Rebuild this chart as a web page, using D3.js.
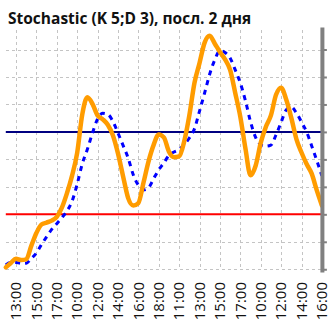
<!DOCTYPE html>
<html>
<head>
<meta charset="utf-8">
<script src="https://cdn.jsdelivr.net/npm/d3@7"></script>
<style>
  html, body { margin: 0; padding: 0; background: #fff; }
  svg { display: block; }
</style>
</head>
<body>
<svg id="chart" width="328" height="323"></svg>
<script>
// Hourly slots over four trading sessions (10:00–18:00)
const hourLabels = [
  "12:00","13:00","14:00","15:00","16:00","17:00","18:00",
  "10:00","11:00","12:00","13:00","14:00","15:00","16:00","17:00","18:00",
  "10:00","11:00","12:00","13:00","14:00","15:00","16:00","17:00","18:00",
  "10:00","11:00","12:00","13:00","14:00","15:00","16:00"
];

// %K line, one value per half hour
const kValues = [
  0.7, 2.3, 3.8, 3.4, 3.6, 8.5, 13.2, 16.3, 17.0, 17.7,
  19.1, 22.4, 27.7, 34.1, 42.4, 56.4, 62.6, 60.2, 56.0, 54.6,
  52.6, 48.8, 42.2, 33.9, 25.9, 23.2, 24.1, 31.5, 39.3, 45.3,
  49.1, 48.0, 42.8, 40.8, 41.1, 46.6, 56.0, 67.8, 75.1, 82.5,
  85.0, 82.1, 79.1, 76.4, 72.6, 64.2, 55.5, 44.0, 34.2, 37.7,
  46.0, 51.8, 56.0, 63.5, 66.1, 61.8, 55.1, 47.4, 42.5, 38.3,
  34.8, 28.7, 23.2
];

// %D line (signal), one value per half hour
const dValues = [
  1.6, 2.5, 2.5, 2.1, 2.2, 3.9, 5.9, 9.0, 11.8, 14.5,
  16.6, 18.8, 21.2, 24.8, 31.0, 38.4, 43.7, 49.6, 54.7, 56.8,
  56.4, 53.9, 49.6, 45.1, 40.5, 34.4, 30.6, 28.9, 29.7, 33.0,
  36.2, 38.7, 41.5, 42.7, 43.6, 45.4, 47.8, 51.1, 57.6, 64.2,
  71.1, 76.3, 79.6, 78.9, 76.9, 72.6, 67.8, 61.4, 53.7, 48.0,
  45.3, 44.8, 45.2, 48.9, 53.5, 58.0, 59.1, 56.9, 53.6, 50.0,
  44.9, 39.6, 34.0
];

// Reference levels
const lowLevel = 20;
const highLevel = 50;
const gridTicks = [0, 10, 20, 30, 40, 50, 60, 70, 80];

const svg = d3.select("#chart");

const x = d3.scaleLinear().domain([0, hourLabels.length - 1]).range([5.8, 321.9]);
const y = d3.scaleLinear().domain([-1, 88.2]).range([272, 27]);

const step = 0.5; // half-hour spacing of the series
const kData = kValues.map((v, i) => [i * step, v]);
const dData = dValues.map((v, i) => [i * step, v]);

// Title
svg.append("text")
  .attr("x", 8)
  .attr("y", 24)
  .attr("font-family", "'Open Sans', sans-serif")
  .attr("font-weight", "bold")
  .attr("font-size", 15.5)
  .attr("fill", "#111")
  .text("Stochastic (K 5;D 3), посл. 2 дня");

// Grid
const grid = svg.append("g").attr("stroke", "#c4c4c4").attr("stroke-width", 1)
  .attr("stroke-dasharray", "3,3").attr("shape-rendering", "crispEdges");

grid.selectAll("line.h").data(gridTicks).join("line")
  .attr("class", "h")
  .attr("x1", x(0)).attr("x2", x(hourLabels.length - 1))
  .attr("y1", d => Math.round(y(d)) + 0.5).attr("y2", d => Math.round(y(d)) + 0.5);

const labelIdx = d3.range(1, hourLabels.length, 2);
grid.selectAll("line.v").data(labelIdx).join("line")
  .attr("class", "v")
  .attr("x1", d => Math.round(x(d)) + 0.5).attr("x2", d => Math.round(x(d)) + 0.5)
  .attr("y1", 30).attr("y2", y(0));

// Level lines
svg.append("line")
  .attr("x1", x(0)).attr("x2", x(hourLabels.length - 1))
  .attr("y1", y(highLevel)).attr("y2", y(highLevel))
  .attr("stroke", "#000080").attr("stroke-width", 2);
svg.append("line")
  .attr("x1", x(0)).attr("x2", x(hourLabels.length - 1))
  .attr("y1", y(lowLevel)).attr("y2", y(lowLevel))
  .attr("stroke", "#ff0000").attr("stroke-width", 2);

const line = d3.line()
  .x(d => x(d[0]))
  .y(d => y(d[1]))
  .curve(d3.curveMonotoneX);

// %D dashed
svg.append("path")
  .datum(dData)
  .attr("d", line)
  .attr("fill", "none")
  .attr("stroke", "#0000ff")
  .attr("stroke-width", 3)
  .attr("stroke-dasharray", "5,5");

// %K solid
svg.append("path")
  .datum(kData)
  .attr("d", line)
  .attr("fill", "none")
  .attr("stroke", "#ff9c00")
  .attr("stroke-width", 4.5)
  .attr("stroke-linejoin", "round")
  .attr("stroke-linecap", "round");

// Right axis
const axis = svg.append("g")
  .attr("transform", `translate(${x(hourLabels.length - 1)},0)`)
  .call(d3.axisRight(y).tickValues(gridTicks).tickSize(5).tickSizeOuter(0).tickFormat(""));
axis.select(".domain").attr("stroke", "#808080").attr("stroke-width", 4);
axis.selectAll(".tick line").attr("stroke", "#808080").attr("stroke-width", 2);

// Time labels
svg.append("g").selectAll("text").data(labelIdx).join("text")
  .attr("transform", d => `translate(${x(d)},282) rotate(-90)`)
  .attr("text-anchor", "end")
  .attr("dy", "0.35em")
  .attr("font-family", "'Open Sans', sans-serif")
  .attr("font-size", 15)
  .attr("fill", "#111")
  .text(d => hourLabels[d]);
</script>
</body>
</html>
